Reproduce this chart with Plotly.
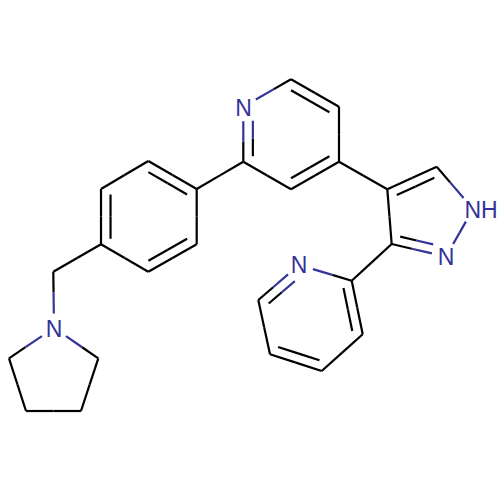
"""
Skeletal drawing of the molecule, built from atom positions and a bond table.
"""

import plotly.graph_objects as go

BLACK = "#000000"
BLUE = "#333399"

# atom positions on the drawing's 0-500 scale, y running downwards
atom_x = [291, 339, 339, 291, 243.3, 243.3,
          148.3, 196.7, 196.7, 148.3, 101, 101,
          53.3, 54, 98.3, 81, 26, 9,
          387.3, 436.7, 473, 446, 391.7,
          351.7, 362.7, 321.7, 270, 258.3, 299]
atom_y = [79.3, 106.7, 161.7, 189.3, 161.7, 106.7,
          161, 189, 244.3, 271.7, 244.3, 189,
          271.7, 328, 358.3, 411, 411, 358.3,
          189.3, 166.7, 209, 256.7, 244,
          280.7, 334.3, 371, 354.3, 300, 265]

# atoms with a printed label
hetero_atoms = [5, 13, 20, 21, 28]
label_text = ["N", "N", "NH", "N", "N"]
label_x = [243.6, 54, 481, 446, 299]
label_y = [110.5, 331, 212, 259.5, 267.5]

# (from atom, to atom)
single_bonds = [(0, 5), (1, 2), (3, 4), (7, 4), (2, 18),
                (7, 8), (9, 10), (11, 6), (10, 12), (12, 13),
                (13, 14), (14, 15), (15, 16), (16, 17), (17, 13),
                (18, 22), (19, 20), (20, 21), (22, 23),
                (23, 28), (24, 25), (26, 27)]

# (from atom, to atom, ring index)
double_bonds = [(0, 1, 0), (2, 3, 0), (4, 5, 0),
                (6, 7, 1), (8, 9, 1), (10, 11, 1),
                (18, 19, 2), (21, 22, 2),
                (23, 24, 3), (25, 26, 3), (27, 28, 3)]

rings = [[0, 1, 2, 3, 4, 5],
         [6, 7, 8, 9, 10, 11],
         [18, 19, 20, 21, 22],
         [23, 24, 25, 26, 27, 28]]

LABEL_GAP = 14.5
INNER_GAP = 8.5
INNER_SHRINK = [0.2, 0.2, 0.24, 0.2]


def trim(p, q, dist):
    """Move p towards q by dist."""
    dx, dy = q[0] - p[0], q[1] - p[1]
    length = (dx * dx + dy * dy) ** 0.5
    return (p[0] + dx / length * dist, p[1] + dy / length * dist)


def add_segment(xs, ys, p, q):
    xs += [p[0], q[0], None]
    ys += [p[1], q[1], None]


def add_bond(p, q, a, b, gap, black, blue):
    """Draw p-q, trimmed at labelled atoms; the half next to a nitrogen is blue."""
    a_hetero, b_hetero = a in hetero_atoms, b in hetero_atoms
    start = trim(p, q, gap) if a_hetero else p
    end = trim(q, p, gap) if b_hetero else q
    mid = ((start[0] + end[0]) / 2, (start[1] + end[1]) / 2)
    add_segment(*(blue if a_hetero else black), start, mid)
    add_segment(*(blue if b_hetero else black), mid, end)


def main() -> None:
    atoms = list(zip(atom_x, atom_y))
    black = ([], [])
    blue = ([], [])

    for a, b in single_bonds:
        add_bond(atoms[a], atoms[b], a, b, LABEL_GAP, black, blue)

    for a, b, ring in double_bonds:
        add_bond(atoms[a], atoms[b], a, b, LABEL_GAP, black, blue)
        # second stroke sits inside the ring
        members = rings[ring]
        cx = sum(atom_x[i] for i in members) / len(members)
        cy = sum(atom_y[i] for i in members) / len(members)
        f = INNER_SHRINK[ring]
        p = (atoms[a][0] + (cx - atoms[a][0]) * f, atoms[a][1] + (cy - atoms[a][1]) * f)
        q = (atoms[b][0] + (cx - atoms[b][0]) * f, atoms[b][1] + (cy - atoms[b][1]) * f)
        add_bond(p, q, a, b, INNER_GAP, black, blue)

    fig = go.Figure()
    for (xs, ys), color in ((black, BLACK), (blue, BLUE)):
        fig.add_trace(
            go.Scatter(x=xs, y=ys, mode="lines",
                       line=dict(color=color, width=2.2),
                       hoverinfo="skip", showlegend=False)
        )
    fig.add_trace(
        go.Scatter(x=label_x, y=label_y, mode="text", text=label_text,
                   textposition="middle center",
                   textfont=dict(family="Liberation Sans", size=23, color=BLUE),
                   hoverinfo="skip", showlegend=False)
    )
    fig.update_layout(
        width=500,
        height=500,
        margin=dict(l=0, r=0, t=0, b=0),
        plot_bgcolor="white",
        paper_bgcolor="white",
        xaxis=dict(range=[0, 500], visible=False, fixedrange=True),
        yaxis=dict(range=[500, 0], visible=False, fixedrange=True),
    )
    fig.write_html("out.html", post_script="document.body.style.margin='0';",
                   config={"displayModeBar": False})


if __name__ == "__main__":
    main()
